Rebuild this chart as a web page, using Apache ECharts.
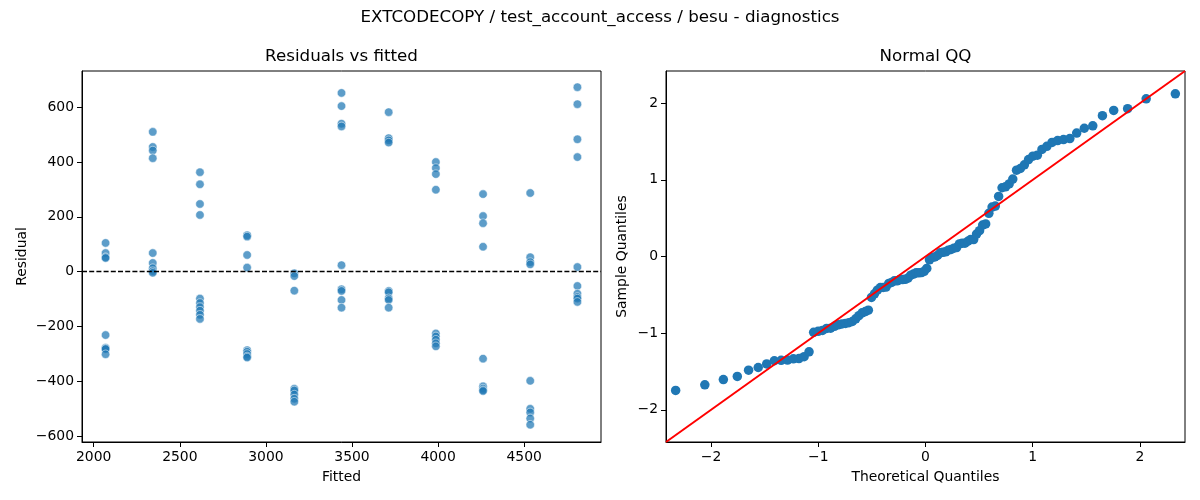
<!DOCTYPE html>
<html>
<head>
<meta charset="utf-8">
<script src="https://cdn.jsdelivr.net/npm/echarts@6/dist/echarts.min.js"></script>
<style>
html,body{margin:0;padding:0;background:#fff;}
#chart{width:1200px;height:500px;}
</style>
</head>
<body>
<div id="chart"></div>
<script>
// ---- Data ----
const fittedLevels = [2069, 2343, 2617, 2891, 3165, 3439, 3713, 3987, 4261, 4535, 4809];
const res1  = [105, 68, 53, 50, -231, -277, -280, -282, -301];
const res2  = [510, 455, 442, 414, 68, 32, 13, 2, -4];
const res3  = [363, 319, 247, 207, -98, -114, -129, -142, -157, -172];
const res4  = [133, 128, 61, 15, -286, -292, -300, -309, -313];
const res5  = [-6, -16, -69, -427, -433, -448, -463, -474];
const res6  = [652, 604, 540, 530, 24, -64, -70, -103, -131];
const res7  = [582, 487, 479, 471, -70, -75, -97, -103, -131];
const res8  = [400, 378, 356, 299, -225, -236, -248, -261, -272];
const res9  = [283, 203, 177, 91, -317, -418, -426, -432, -435];
const res10 = [287, 53, 35, 27, -398, -500, -513, -535, -558];
const res11 = [673, 611, 483, 418, 17, -52, -80, -92, -98, -110];
const residualGroups = [res1, res2, res3, res4, res5, res6, res7, res8, res9, res10, res11];

// theoretical normal quantiles for 100 points (plotting positions i/101)
const theoQuantiles = [
 -2.330, -2.058, -1.885, -1.755, -1.650, -1.560, -1.481, -1.410, -1.346, -1.287,
 -1.232, -1.180, -1.132, -1.086, -1.043, -1.001, -0.961, -0.922, -0.885, -0.849,
 -0.814, -0.780, -0.746, -0.714, -0.682, -0.651, -0.621, -0.591, -0.561, -0.533,
 -0.504, -0.476, -0.449, -0.421, -0.395, -0.368, -0.342, -0.316, -0.290, -0.264,
 -0.239, -0.213, -0.188, -0.163, -0.137, -0.112, -0.087, -0.062, -0.037, -0.012,
  0.012,  0.037,  0.062,  0.087,  0.112,  0.137,  0.163,  0.188,  0.213,  0.239,
  0.264,  0.290,  0.316,  0.342,  0.368,  0.395,  0.421,  0.449,  0.476,  0.504,
  0.533,  0.561,  0.591,  0.621,  0.651,  0.682,  0.714,  0.746,  0.780,  0.814,
  0.849,  0.885,  0.922,  0.961,  1.001,  1.043,  1.086,  1.132,  1.180,  1.232,
  1.287,  1.346,  1.410,  1.481,  1.560,  1.650,  1.755,  1.885,  2.058,  2.330
];

const resXTicks = [2000, 2500, 3000, 3500, 4000, 4500];
const resYTicks = [-600, -400, -200, 0, 200, 400, 600];
const qqTicks = [-2, -1, 0, 1, 2];
const resXRange = [1932, 4946];
const resYRange = [-621, 732];
const qqRange = [-2.42, 2.42];

// ---- Build series data ----
const residualPoints = [];
const allResiduals = [];
residualGroups.forEach((g, i) => {
  g.forEach(r => { residualPoints.push([fittedLevels[i], r]); allResiduals.push(r); });
});
const n = allResiduals.length;
const mean = allResiduals.reduce((a, b) => a + b, 0) / n;
const sd = Math.sqrt(allResiduals.reduce((a, b) => a + (b - mean) * (b - mean), 0) / n);
const sampleQ = allResiduals.map(r => (r - mean) / sd).sort((a, b) => a - b);
const qqPoints = sampleQ.map((s, i) => [theoQuantiles[i], s]);
const refLine = [[qqRange[0], qqRange[0]], [qqRange[1], qqRange[1]]];

const FONT = 'DejaVu Sans';
const minus = v => String(v).replace('-', '\u2212');

function valueAxis(range, ticks, gridIndex, name, nameGap) {
  return {
    type: 'value', gridIndex: gridIndex, min: range[0], max: range[1],
    name: name, nameLocation: 'middle', nameGap: nameGap,
    nameTextStyle: {fontFamily: FONT, fontSize: 13.9, color: '#000'},
    axisLine: {show: true, onZero: false, lineStyle: {color: '#000', width: 1}},
    axisTick: {show: true, inside: false, length: 5, customValues: ticks, lineStyle: {color: '#000', width: 1}},
    axisLabel: {show: true, customValues: ticks, margin: 8, fontFamily: FONT, fontSize: 13.9, color: '#000', formatter: minus},
    splitLine: {show: false}
  };
}

const chart = echarts.init(document.getElementById('chart'), null, {renderer: 'canvas'});
chart.setOption({
  animation: false,
  backgroundColor: '#fff',
  title: [
    {text: 'EXTCODECOPY / test_account_access / besu - diagnostics', left: 600, top: 9, textAlign: 'center', padding: 0,
     textStyle: {fontFamily: FONT, fontSize: 16.7, fontWeight: 'normal', color: '#000'}},
    {text: 'Residuals vs fitted', left: 341.5, top: 48, textAlign: 'center', padding: 0,
     textStyle: {fontFamily: FONT, fontSize: 16.7, fontWeight: 'normal', color: '#000'}},
    {text: 'Normal QQ', left: 925.5, top: 48, textAlign: 'center', padding: 0,
     textStyle: {fontFamily: FONT, fontSize: 16.7, fontWeight: 'normal', color: '#000'}}
  ],
  grid: [
    {left: 82, top: 71, width: 519, height: 371, show: true, borderColor: '#000', borderWidth: 1, backgroundColor: 'transparent'},
    {left: 666, top: 71, width: 519, height: 371, show: true, borderColor: '#000', borderWidth: 1, backgroundColor: 'transparent'}
  ],
  xAxis: [
    valueAxis(resXRange, resXTicks, 0, 'Fitted', 28),
    valueAxis(qqRange, qqTicks, 1, 'Theoretical Quantiles', 28)
  ],
  yAxis: [
    valueAxis(resYRange, resYTicks, 0, 'Residual', 53),
    valueAxis(qqRange, qqTicks, 1, 'Sample Quantiles', 37)
  ],
  series: [
    {type: 'scatter', xAxisIndex: 0, yAxisIndex: 0, data: residualPoints, symbolSize: 8.5, z: 2,
     itemStyle: {color: '#1f77b4', opacity: 0.72, borderColor: '#ffffff', borderWidth: 0.7},
     markLine: {silent: true, symbol: 'none', label: {show: false}, z: 5,
       lineStyle: {color: '#000', type: [5, 2.2], width: 1.3}, data: [{yAxis: 0}]}},
    {type: 'scatter', xAxisIndex: 1, yAxisIndex: 1, data: qqPoints, symbolSize: 9.5, z: 2,
     itemStyle: {color: '#1f77b4', opacity: 1}},
    {type: 'line', xAxisIndex: 1, yAxisIndex: 1, data: refLine, symbol: 'none', z: 4,
     lineStyle: {color: '#ff0000', width: 2}}
  ]
});
</script>
</body>
</html>
